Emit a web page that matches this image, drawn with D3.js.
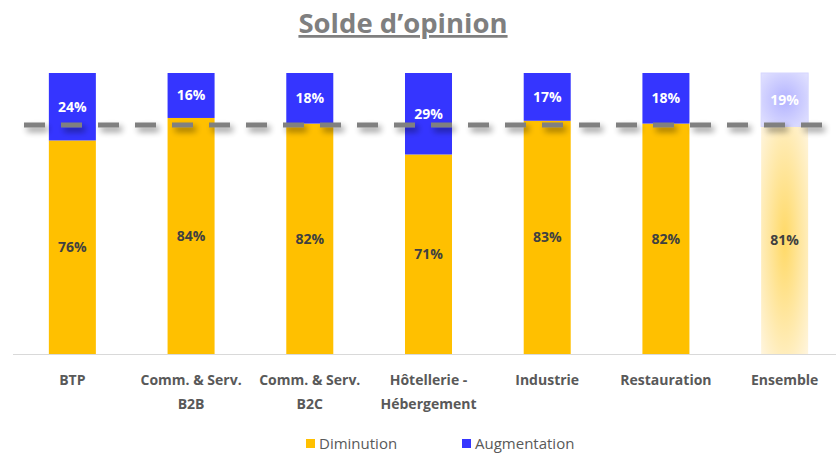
<!DOCTYPE html>
<html><head><meta charset="utf-8">
<script src="https://cdn.jsdelivr.net/npm/d3@7"></script>
<style>body{margin:0;background:#fff}svg{display:block}</style>
</head><body>
<svg id="c" width="836" height="453"></svg>
<script>
const categories = ["BTP", "Comm. & Serv.\nB2B", "Comm. & Serv.\nB2C", "Hôtellerie -\nHébergement", "Industrie", "Restauration", "Ensemble"];
const diminution = [76, 84, 82, 71, 83, 82, 81];
const augmentation = [24, 16, 18, 29, 17, 18, 19];
const referenceValue = 81.5;
const seriesNames = ["Diminution", "Augmentation"];
const title = "Solde d’opinion";

const svg = d3.select("#c");
const font = "'Open Sans', 'Noto Sans', sans-serif";
const defs = svg.append("defs");
const rg1 = defs.append("radialGradient").attr("id","gY").attr("cx","50%").attr("cy","50%").attr("r","75%");
rg1.append("stop").attr("offset","0%").attr("stop-color","#ffd966");
rg1.append("stop").attr("offset","100%").attr("stop-color","#fff7e6");
const rg2 = defs.append("radialGradient").attr("id","gB").attr("cx","50%").attr("cy","50%").attr("r","75%");
rg2.append("stop").attr("offset","0%").attr("stop-color","#b3b3ff");
rg2.append("stop").attr("offset","100%").attr("stop-color","#e6e6ff");
const f = defs.append("filter").attr("id","sh").attr("filterUnits","userSpaceOnUse")
  .attr("x", 0).attr("y", 100).attr("width", 836).attr("height", 50);
f.append("feGaussianBlur").attr("in","SourceAlpha").attr("stdDeviation","3").attr("result","blur");
f.append("feOffset").attr("in","blur").attr("dx","3").attr("dy","4").attr("result","off");
f.append("feComponentTransfer").attr("in","off").attr("result","sh").append("feFuncA").attr("type","linear").attr("slope","0.45");
const m = f.append("feMerge"); m.append("feMergeNode").attr("in","sh"); m.append("feMergeNode").attr("in","SourceGraphic");

const x = d3.scaleBand().domain(categories).range([13, 844]).paddingInner(0.604).paddingOuter(0.302);
const y = d3.scaleLinear().domain([0, 100]).range([354, 73]);

// axis line
svg.append("line").attr("x1", 13).attr("x2", 836).attr("y1", y(0)+0.5).attr("y2", y(0)+0.5)
  .attr("stroke", "#d9d9d9").attr("stroke-width", 1.2);

const last = categories.length - 1;
// bars
categories.forEach((c, i) => {
  const bx = x(c), bw = x.bandwidth();
  svg.append("rect").attr("x", bx).attr("width", bw).attr("y", y(diminution[i])).attr("height", y(0) - y(diminution[i]))
    .attr("fill", i === last ? "url(#gY)" : "#ffc000");
  svg.append("rect").attr("x", bx).attr("width", bw).attr("y", y(100)).attr("height", y(diminution[i]) - y(100))
    .attr("fill", i === last ? "url(#gB)" : "#3535ff")
    .attr("stroke", i === last ? "#d6d6ff" : "none");
});

// dashed reference line
svg.append("line").attr("x1", 24).attr("x2", 836).attr("y1", y(referenceValue)).attr("y2", y(referenceValue))
  .attr("stroke", "#808080").attr("stroke-width", 5).attr("stroke-dasharray", "21,16")
  .attr("filter", "url(#sh)");

// value labels
categories.forEach((c, i) => {
  const cx = x(c) + x.bandwidth()/2;
  svg.append("text").attr("x", cx).attr("y", (y(diminution[i]) + y(0))/2 + 5)
    .attr("text-anchor","middle").attr("font-family", font).attr("font-size", 14).attr("font-weight","bold")
    .attr("fill", "#404040").text(diminution[i] + "%");
  svg.append("text").attr("x", cx).attr("y", (y(100) + y(diminution[i]))/2 + 5)
    .attr("text-anchor","middle").attr("font-family", font).attr("font-size", 14).attr("font-weight","bold")
    .attr("fill", "#ffffff").text(augmentation[i] + "%");
});

// x labels
categories.forEach(c => {
  const cx = x(c) + x.bandwidth()/2;
  const t = svg.append("text").attr("text-anchor","middle").attr("font-family", font).attr("font-size", 14)
    .attr("font-weight","bold").attr("fill","#595959");
  c.split("\n").forEach((line, k) => {
    t.append("tspan").attr("x", cx).attr("y", 385 + k*24).text(line);
  });
});

// title
svg.append("text").attr("x", 403).attr("y", 33).attr("text-anchor","middle").attr("font-family", font)
  .attr("font-size", 27.5).attr("font-weight","bold").attr("fill","#7f7f7f")
  .attr("text-decoration","underline").text(title);

// legend
const legendColors = ["#ffc000", "#3535ff"];
const legendX = [306, 462];
seriesNames.forEach((n, i) => {
  svg.append("rect").attr("x", legendX[i]).attr("y", 439).attr("width", 9).attr("height", 9).attr("fill", legendColors[i]);
  svg.append("text").attr("x", legendX[i] + 13).attr("y", 449).attr("font-family", font).attr("font-size", 15)
    .attr("fill","#595959").text(n);
});
</script>
</body></html>
